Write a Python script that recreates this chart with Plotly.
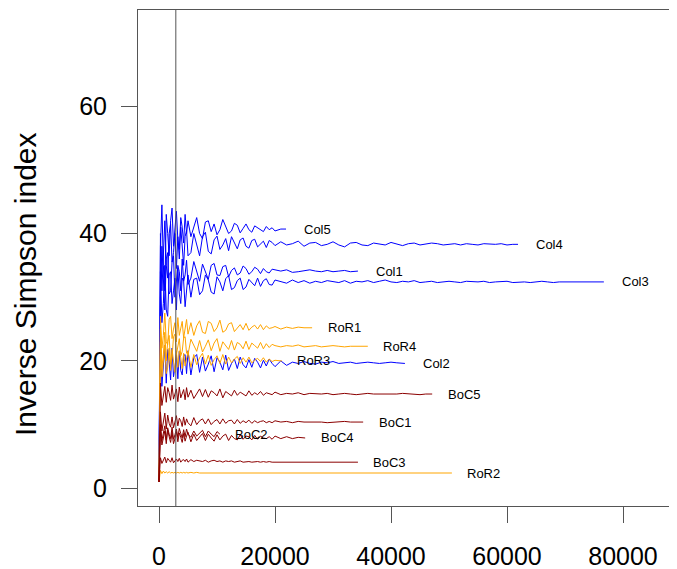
import plotly.graph_objects as go

# Sampling depths (number of reads) at which the index was computed
X_GRID = [0, 100] + list(range(250, 5001, 250)) + list(range(5500, 20001, 500)) + list(range(21000, 90001, 1000))

NAMES = ["Col5", "Col4", "Col1", "Col3", "RoR1", "RoR4", "RoR3", "Col2",
         "BoC5", "BoC1", "BoC2", "BoC4", "BoC3", "RoR2"]
GROUP = ["Col", "Col", "Col", "Col", "RoR", "RoR", "RoR", "Col",
         "BoC", "BoC", "BoC", "BoC", "BoC", "RoR"]
DEPTH = [21900, 61900, 34300, 76700, 26400, 36000, 21200, 42400,
         47100, 35200, 10500, 25200, 34300, 50500]
COLORS = {"Col": "#0000FF", "RoR": "#FFA500", "BoC": "#8B0000"}
V_LINE = 2900

COL5 = [1, 28, 38, 44.5, 35, 31, 43, 40, 36.5, 42, 44, 38, 41, 43.5, 39, 37.5, 42.5, 41, 38.5, 43, 40, 42,
        39.5, 41, 42.5, 40, 39.2, 41.8, 42, 40.3, 41.5, 39.8, 40.6, 42.2, 41.2, 40, 40.4, 41.6, 41.3, 40.1,
        40.8, 41.5, 40.6, 40.2, 41.2, 40.9, 40.5, 40.3, 41.1, 40.6, 40.9, 40.4, 40.7, 40.7]
COL4 = [1, 24, 40, 31, 36, 42, 35, 33, 40, 41.5, 35.5, 37, 40, 34.5, 39.5, 36, 41, 38, 35, 39.5, 40.5, 36.5,
        37, 40, 38.2, 36.5, 39.5, 40.2, 37.2, 36.8, 39, 39.6, 37.5, 38.2, 39.2, 37.3, 39.5, 38.6, 37.6, 39,
        39.3, 38, 37.7, 38.9, 39.1, 37.9, 38.4, 38.8, 37.8, 38.9, 38.6, 38.1,
        38.7, 38.2, 38.4, 38.8, 38, 38.5, 38.6, 38.1, 38.3, 38.7, 38.2, 37.9, 38.5, 38.6, 38.2, 38.1, 38.5,
        38.4, 38.2, 38.6, 38.3, 38.1, 38.4, 38.5, 38.2, 38.3, 38.5, 38.4, 38.2, 38.3, 38.4, 38.2, 38.4, 38.3,
        38.2, 38.4, 38.3, 38.3, 38.4, 38.2, 38.3, 38.3]
COL1 = [1, 22, 30, 38, 33, 28, 36, 37, 30.5, 31, 35.5, 36.5, 30, 32, 35, 34, 31, 36, 32.5, 33.5, 35.8, 32,
        33, 35.6, 34.2, 32.5, 35.2, 34, 32.8, 35, 35.3, 33.5, 33.4, 34.8, 35, 33.2, 34.2, 34.6, 33.5, 33.8,
        34.9, 34.5, 33.6, 34, 34.7, 34.4, 33.7, 34.5, 34, 33.8, 34.4, 34.3,
        34.1, 34.3, 33.9, 34, 34.2, 34.3, 34.1, 34, 34.2, 34, 34.1, 34.2, 34, 34.1, 34.1]
COL3 = [1, 20, 34, 26, 29, 35, 28, 27, 33.5, 34, 29, 31, 33, 28, 34.5, 30.5, 29, 33, 32.5, 28.5, 31, 33.5,
        30, 32.8, 33, 30.4, 31, 33.5, 32.7, 30.8, 30.5, 33.2, 32.4, 31, 32.9, 33.4, 31.2, 31.5, 32.6, 33,
        31.2, 31.6, 32.8, 32.3, 31.8, 33, 31.7, 32.6, 32.9, 32, 31.9, 32.7,
        32.5, 32.2, 32.7, 32.3, 32.6, 32.2, 32.5, 32.3, 32.6, 32.4, 32.3, 32.6, 32.2, 32.5, 32.4, 32.6, 32.3,
        32.5, 32.7, 32.4, 32.3, 32.5, 32.4, 32.6, 32.3, 32.4, 32.5, 32.3, 32.4, 32.5, 32.4, 32.3, 32.5, 32.4,
        32.4, 32.5, 32.3, 32.4, 32.4, 32.5, 32.3, 32.4, 32.4, 32.3, 32.4, 32.5, 32.4, 32.3, 32.4, 32.4, 32.3,
        32.4, 32.4, 32.3, 32.4, 32.4, 32.4]
ROR1 = [1, 18, 27, 22, 24, 27.5, 23, 22.5, 26.5, 27, 23.5, 25, 26, 23, 26.8, 24, 25.2, 26.2, 23.6, 24.8, 26.5, 24.2,
        26, 24, 25.5, 26.3, 24.5, 24.3, 26.2, 25.9, 24.6, 25.2, 26.4, 24.5, 24.8, 25.8, 26, 24.6, 25.1, 25.7,
        24.9, 25.9, 24.8, 25.3, 25.6, 25, 25.7, 24.9, 25.5, 25.1, 25.2, 25.4,
        25, 25.3, 25.1, 25.3, 25.2, 25.2, 25.2]
ROR4 = [1, 16, 25, 19, 21, 24.5, 20, 23, 24, 19.5, 20.5, 23.8, 24.2, 21, 22, 23.5, 20.8, 21.5, 23.6, 23.8, 21.2, 21,
        23.4, 22.5, 21.5, 23.2, 21.4, 22.3, 23.3, 21.6, 22.8, 23.5, 21.5, 23, 22.4, 21.8, 23.2, 21.7, 22.9, 22.6,
        21.9, 23.1, 21.8, 22.8, 22.4, 22, 22.9, 21.9, 22.7, 22.1, 22.6, 22.4,
        22.2, 22.4, 22.3, 22.5, 22.2, 22.3, 22.4, 22.2, 22.3, 22.4, 22.3, 22.2, 22.3, 22.3, 22.4, 22.3, 22.3]
ROR3 = [1, 15, 23, 17.5, 20, 22.5, 18, 19, 22, 18.5, 21.8, 20, 18.2, 21.5, 19, 21.6, 20.5, 18.8, 21.2, 19.2, 20.2, 21.5,
        19, 21, 19.4, 20.5, 21.2, 19.5, 20.9, 19.3, 20.2, 20.8, 19.6, 21, 19.5, 20.6, 19.7, 20.3, 20.7, 19.6,
        20.5, 19.8, 20.6, 19.7, 20.1, 20.4, 19.9, 20.5, 19.8, 20.3, 19.9, 20.1, 20, 20]
COL2 = [1, 14, 24, 16, 19, 22.5, 16.5, 21.8, 20, 17, 22, 17.5, 19, 21, 17.2, 21.5, 18.5, 17.8, 20.8, 21, 18, 21.6,
        17.8, 20.5, 21, 18.2, 20.6, 18.4, 19.5, 20.8, 18.3, 20.5, 19.8, 18.6, 20.9, 18.5, 19.6, 20.3, 18.8, 20.6,
        19.4, 18.9, 20.2, 19, 20.4, 19.8, 18.9, 20.1, 19.2, 20.3, 19.6, 19.1,
        20, 19.3, 19.8, 19.6, 19.9, 19.6, 19.5, 19.8, 19.7, 19.9, 19.6, 19.7, 19.8, 19.6, 19.7, 19.8, 19.7,
        19.6, 19.7, 19.8, 19.7, 19.7, 19.6]
BOC5 = [1, 12, 16.5, 13, 14.5, 16, 13.5, 15.8, 15, 13.8, 16.2, 14, 14.8, 15.6, 13.6, 15.9, 14.2, 15, 15.5, 13.9, 15.8, 14.3,
        15.4, 14.1, 14.8, 15.6, 14.4, 15.5, 14.3, 15.3, 15, 14.5, 15.6, 14.2, 15.2, 14.9, 14.5, 15.4, 14.6, 15.1,
        14.8, 14.5, 15.3, 14.6, 15, 14.7, 15.2, 14.6, 15, 14.8, 14.7, 15.1,
        14.7, 14.9, 14.8, 15, 14.7, 14.9, 14.8, 14.8, 14.9, 14.7, 14.8, 14.9, 14.8, 14.7, 14.8, 14.9, 14.8,
        14.8, 14.7, 14.8, 14.8, 14.9, 14.8, 14.8, 14.7, 14.8, 14.8, 14.8]
BOC1 = [1, 8, 12, 9, 10.5, 11.8, 9.3, 11.5, 10.2, 9.6, 11.2, 9.5, 10.4, 11.4, 9.8, 11, 10.6, 9.7, 11.2, 9.9, 10.9, 10.3,
        9.8, 11.1, 10, 10.6, 10.9, 10.1, 10.9, 10, 10.5, 10.8, 10.1, 10.9, 10.2, 10.6, 10.7, 10.1, 10.8, 10.2,
        10.6, 10.3, 10.7, 10.2, 10.6, 10.3, 10.5, 10.6, 10.3, 10.5, 10.3, 10.6,
        10.4, 10.5, 10.3, 10.5, 10.4, 10.4, 10.5, 10.4, 10.3, 10.4, 10.4, 10.5, 10.4, 10.4, 10.4, 10.4]
BOC2 = [1, 7, 10, 7.5, 8.8, 9.8, 7.6, 9.5, 8.5, 7.8, 9.6, 7.7, 8.4, 9.3, 8, 9.4, 8.6, 7.9, 9.2, 8.1, 9.3, 8.5,
        8, 9, 8.2, 8.7, 9.1, 8.1, 9, 8.5, 8.1, 8.9, 8.5]
BOC4 = [1, 6, 9.5, 6.8, 8, 9, 7, 9.2, 8.1, 7.2, 8.8, 7, 7.8, 8.9, 7.3, 8.7, 8, 7.2, 8.6, 7.4, 8.2, 8.8,
        7.3, 8.5, 7.5, 8.1, 8.6, 7.5, 8.5, 7.9, 7.4, 8.4, 7.6, 8.2, 8.5, 7.5, 8.3, 7.8, 7.6, 8.4, 7.7, 8.2,
        8.1, 7.6, 8.3, 7.7, 8.2, 7.9, 7.8, 8.1, 7.7, 8.2,
        7.8, 8.1, 7.8, 8, 7.9, 7.9]
BOC3 = [1, 3.5, 4.8, 3.9, 4.3, 4.9, 4, 4.7, 4.4, 4.1, 4.8, 4, 4.3, 4.6, 4.2, 4.7, 4.1, 4.4, 4.5, 4.2, 4.6, 4.1,
        4.5, 4.2, 4.4, 4.3, 4.2, 4.4, 4.1, 4.3, 4.4, 4.2, 4.3, 4.1, 4.3, 4.2, 4.3, 4.1, 4.2, 4.3, 4.1, 4.2,
        4.2, 4.1, 4.2, 4.2, 4.1, 4.2, 4.1, 4.2, 4.1, 4.1,
        4.1, 4.2, 4.1, 4.1, 4.1, 4.2, 4.1, 4.1, 4.1, 4.1, 4.2, 4.1, 4.1, 4.1, 4.1]
ROR2 = [1, 2.2, 2.8, 2.3, 2.7, 2.4, 2.6, 2.4, 2.6, 2.4, 2.5, 2.4, 2.5, 2.4, 2.5, 2.4, 2.5, 2.4, 2.5, 2.4, 2.5, 2.4,
        2.5, 2.4, 2.5, 2.4, 2.4, 2.5, 2.4, 2.4, 2.5, 2.4, 2.4, 2.4, 2.5, 2.4, 2.4, 2.4, 2.4, 2.5,
        2.4, 2.4, 2.4, 2.4, 2.4, 2.4, 2.4, 2.4, 2.4, 2.4, 2.4, 2.4,
        2.4, 2.4, 2.4, 2.4, 2.4, 2.4, 2.4, 2.4, 2.4, 2.4, 2.4, 2.4, 2.4, 2.4, 2.4, 2.4, 2.4,
        2.4, 2.4, 2.4, 2.4, 2.4, 2.4, 2.4, 2.4, 2.4, 2.4, 2.4, 2.4, 2.4]

VALUES = [COL5, COL4, COL1, COL3, ROR1, ROR4, ROR3, COL2, BOC5, BOC1, BOC2, BOC4, BOC3, ROR2]

X_TICKS = [0, 20000, 40000, 60000, 80000]
Y_TICKS = [0, 20, 40, 60]
LABEL_OFFSET = 5500

AXIS_COLOR = "#555555"
FONT = "Liberation Sans, Arial, sans-serif"

fig = go.Figure()
order = [i for i, g in enumerate(GROUP) if g == "Col"] + \
        [i for i, g in enumerate(GROUP) if g == "RoR"] + \
        [i for i, g in enumerate(GROUP) if g == "BoC"]
for i in order:
    vals = VALUES[i]
    grid = [g for g in X_GRID if g < DEPTH[i]]
    xs = grid[:len(vals) - 1] + [DEPTH[i]]
    ys = vals[:len(xs) - 1] + [vals[-1]]
    fig.add_trace(go.Scatter(x=xs, y=ys, mode="lines",
                             line=dict(color=COLORS[GROUP[i]], width=1.0),
                             showlegend=False, hoverinfo="skip"))

for i, name in enumerate(NAMES):
    fig.add_annotation(x=DEPTH[i] + LABEL_OFFSET, y=VALUES[i][-1], text=name,
                       showarrow=False, xanchor="center", yanchor="middle",
                       font=dict(family=FONT, size=13, color="#000000"))

fig.add_vline(x=V_LINE, line=dict(color=AXIS_COLOR, width=1))

fig.add_annotation(xref="paper", yref="paper", x=-0.2048, y=0.4476,
                   text="Inverse Simpson index", textangle=-90, showarrow=False,
                   xanchor="center", yanchor="middle",
                   font=dict(family=FONT, size=30, color="#000000"))

# the page body adds an 8px margin; the plot box runs past the right edge of the window
fig.update_layout(
    width=677, height=561,
    margin=dict(l=130, r=0, t=2, b=63, pad=0, autoexpand=False),
    paper_bgcolor="white", plot_bgcolor="white",
    font=dict(family=FONT, color="#000000"),
)
fig.update_xaxes(range=[-3620, 90690], tickvals=X_TICKS, ticktext=[str(v) for v in X_TICKS],
                 showgrid=False, zeroline=False, showline=True, mirror=True, automargin=False,
                 linecolor=AXIS_COLOR, linewidth=1, ticks="outside", ticklen=16,
                 tickcolor=AXIS_COLOR, tickwidth=1, ticklabelstandoff=12,
                 tickfont=dict(family=FONT, size=25, color="#000000"))
fig.update_yaxes(range=[-2.78, 75.09], tickvals=Y_TICKS, ticktext=[str(v) for v in Y_TICKS],
                 showgrid=False, zeroline=False, showline=True, mirror=False, automargin=False,
                 linecolor=AXIS_COLOR, linewidth=1, ticks="outside", ticklen=16,
                 tickcolor=AXIS_COLOR, tickwidth=1, ticklabelstandoff=9,
                 tickfont=dict(family=FONT, size=25, color="#000000"))

fig.write_html("out.html")
